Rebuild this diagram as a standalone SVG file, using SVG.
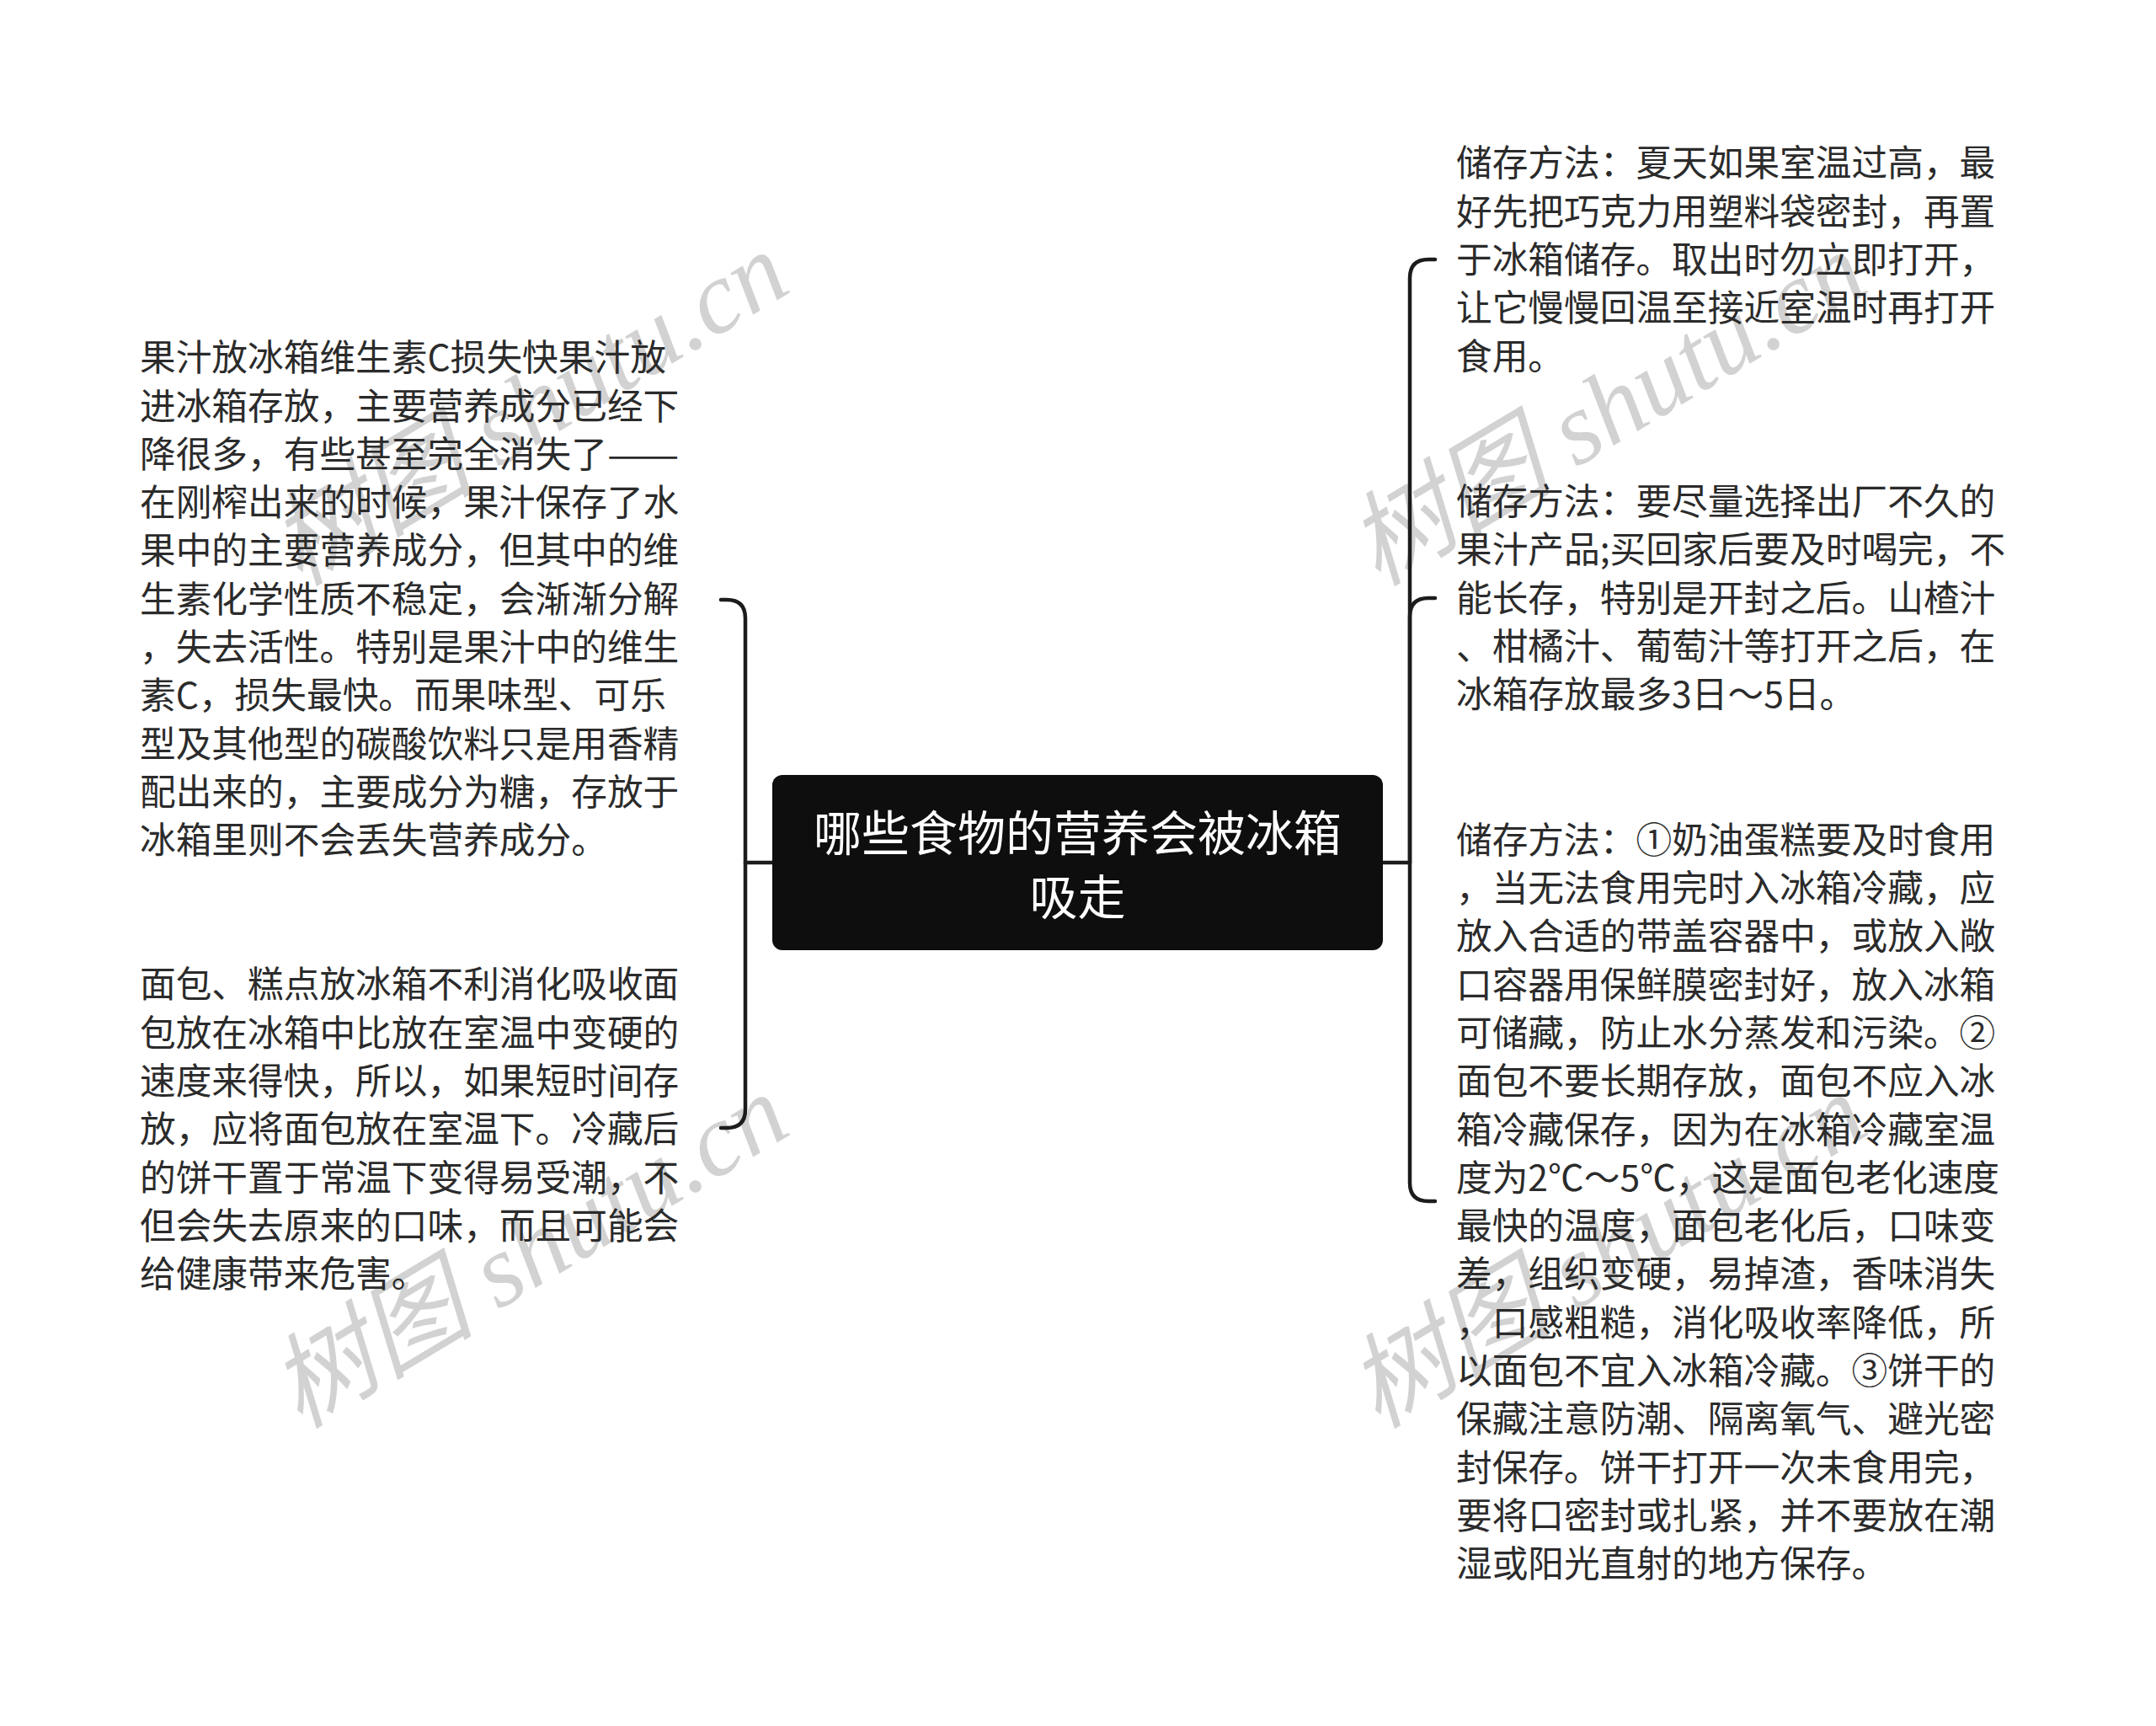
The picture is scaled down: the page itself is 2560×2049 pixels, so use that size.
<svg xmlns="http://www.w3.org/2000/svg" width="2560" height="2049" viewBox="0 0 2560 2049">
<style>
.bg{fill:#ffffff}
.wm{font-family:"Liberation Serif","Noto Sans CJK SC",serif;font-style:italic;font-size:122px;fill:#d2d2d2}
.t{font-family:"Noto Sans CJK SC","Noto Sans",sans-serif;font-size:42.7px;fill:#2b2b2b}
.ct{font-family:"Noto Sans CJK SC","Noto Sans",sans-serif;font-size:57px;fill:#ffffff;text-anchor:middle}
.ln{fill:none;stroke:#1c1c1c;stroke-width:4.5;stroke-linecap:round;stroke-linejoin:round}
</style>
<rect class="bg" x="0" y="0" width="2560" height="2049"/>
<g id="watermarks">
<text class="wm" transform="translate(356,697) rotate(-31)">树图 shutu.cn</text>
<text class="wm" transform="translate(356,1697) rotate(-31)">树图 shutu.cn</text>
<text class="wm" transform="translate(1636,697) rotate(-31)">树图 shutu.cn</text>
<text class="wm" transform="translate(1636,1697) rotate(-31)">树图 shutu.cn</text>
</g>
<g id="connectors">
<path class="ln" d="M917 1024 H885"/>
<path class="ln" d="M885 1024 V734 Q885 712 863 712 H856"/>
<path class="ln" d="M885 1024 V1317 Q885 1339 863 1339 H856"/>
<path class="ln" d="M1642 1024 H1674"/>
<path class="ln" d="M1674 1024 V330 Q1674 308 1696 308 H1704"/>
<path class="ln" d="M1674 1024 V732 Q1674 710 1696 710 H1704"/>
<path class="ln" d="M1674 1024 V1404 Q1674 1426 1696 1426 H1704"/>
</g>
<g id="root">
<rect x="917" y="920" width="725" height="208" rx="12" ry="12" fill="#0e0e0e"/>
<text class="ct"><tspan x="1279.5" y="1009.5">哪些食物的营养会被冰箱</tspan><tspan x="1279.5" y="1085.5">吸走</tspan></text>
</g>
<g id="left1">
<text class="t"><tspan x="166" y="440.2">果汁放冰箱维生素C损失快果汁放</tspan><tspan x="166" dy="57.3">进冰箱存放，主要营养成分已经下</tspan><tspan x="166" dy="57.3">降很多，有些甚至完全消失了</tspan><tspan x="721.1" textLength="85.4" lengthAdjust="spacingAndGlyphs">——</tspan><tspan x="166" dy="57.3">在刚榨出来的时候，果汁保存了水</tspan><tspan x="166" dy="57.3">果中的主要营养成分，但其中的维</tspan><tspan x="166" dy="57.3">生素化学性质不稳定，会渐渐分解</tspan><tspan x="166" dy="57.3">，失去活性。特别是果汁中的维生</tspan><tspan x="166" dy="57.3">素C，损失最快。而果味型、可乐</tspan><tspan x="166" dy="57.3">型及其他型的碳酸饮料只是用香精</tspan><tspan x="166" dy="57.3">配出来的，主要成分为糖，存放于</tspan><tspan x="166" dy="57.3">冰箱里则不会丢失营养成分。</tspan></text>
</g>
<g id="left2">
<text class="t"><tspan x="166" y="1184.3">面包、糕点放冰箱不利消化吸收面</tspan><tspan x="166" dy="57.3">包放在冰箱中比放在室温中变硬的</tspan><tspan x="166" dy="57.3">速度来得快，所以，如果短时间存</tspan><tspan x="166" dy="57.3">放，应将面包放在室温下。冷藏后</tspan><tspan x="166" dy="57.3">的饼干置于常温下变得易受潮，不</tspan><tspan x="166" dy="57.3">但会失去原来的口味，而且可能会</tspan><tspan x="166" dy="57.3">给健康带来危害。</tspan></text>
</g>
<g id="right1">
<text class="t"><tspan x="1729" y="209.3">储存方法：夏天如果室温过高，最</tspan><tspan x="1729" dy="57.3">好先把巧克力用塑料袋密封，再置</tspan><tspan x="1729" dy="57.3">于冰箱储存。取出时勿立即打开，</tspan><tspan x="1729" dy="57.3">让它慢慢回温至接近室温时再打开</tspan><tspan x="1729" dy="57.3">食用。</tspan></text>
</g>
<g id="right2">
<text class="t"><tspan x="1729" y="611">储存方法：要尽量选择出厂不久的</tspan><tspan x="1729" dy="57.3">果汁产品;买回家后要及时喝完，不</tspan><tspan x="1729" dy="57.3">能长存，特别是开封之后。山楂汁</tspan><tspan x="1729" dy="57.3">、柑橘汁、葡萄汁等打开之后，在</tspan><tspan x="1729" dy="57.3">冰箱存放最多3日～5日。</tspan></text>
</g>
<g id="right3">
<text class="t"><tspan x="1729" y="1012.7">储存方法：①奶油蛋糕要及时食用</tspan><tspan x="1729" dy="57.3">，当无法食用完时入冰箱冷藏，应</tspan><tspan x="1729" dy="57.3">放入合适的带盖容器中，或放入敞</tspan><tspan x="1729" dy="57.3">口容器用保鲜膜密封好，放入冰箱</tspan><tspan x="1729" dy="57.3">可储藏，防止水分蒸发和污染。②</tspan><tspan x="1729" dy="57.3">面包不要长期存放，面包不应入冰</tspan><tspan x="1729" dy="57.3">箱冷藏保存，因为在冰箱冷藏室温</tspan><tspan x="1729" dy="57.3">度为2℃～5℃，这是面包老化速度</tspan><tspan x="1729" dy="57.3">最快的温度，面包老化后，口味变</tspan><tspan x="1729" dy="57.3">差，组织变硬，易掉渣，香味消失</tspan><tspan x="1729" dy="57.3">，口感粗糙，消化吸收率降低，所</tspan><tspan x="1729" dy="57.3">以面包不宜入冰箱冷藏。③饼干的</tspan><tspan x="1729" dy="57.3">保藏注意防潮、隔离氧气、避光密</tspan><tspan x="1729" dy="57.3">封保存。饼干打开一次未食用完，</tspan><tspan x="1729" dy="57.3">要将口密封或扎紧，并不要放在潮</tspan><tspan x="1729" dy="57.3">湿或阳光直射的地方保存。</tspan></text>
</g>
</svg>
